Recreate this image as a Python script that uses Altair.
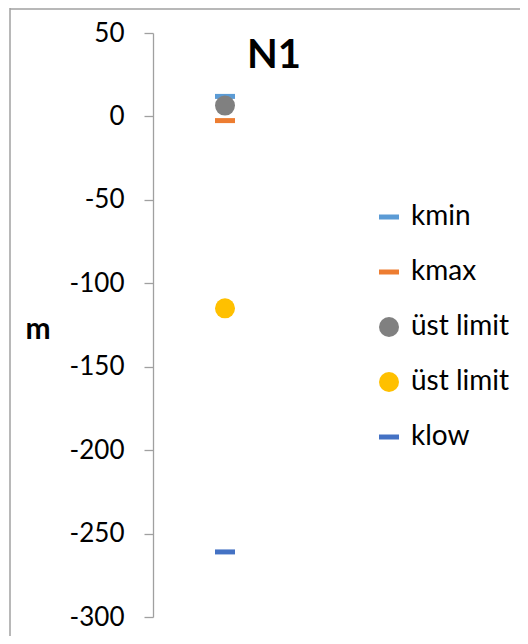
import altair as alt
import pandas as pd

# ---- data ----
series = ["kmin", "kmax", "klow", "üst limit (1)", "üst limit (2)"]
values = [12, -2.5, -261, 6.5, -115]
legend_order = ["kmin", "kmax", "üst limit (1)", "üst limit (2)", "klow"]
legend_colors = ["#5B9BD5", "#ED7D31", "#808080", "#FFC000", "#4472C4"]
DASH = "M-1,-0.25H1V0.25H-1Z"
legend_shapes = [DASH, DASH, "circle", "circle", DASH]
y_ticks = [-300, -250, -200, -150, -100, -50, 0, 50]
chart_title = "N1"
axis_title = "m"

df = pd.DataFrame({"seri": series, "deger": values, "kat": [1] * len(series)})

W, H = 144, 584
FONT = "Lato"
GRAY = "#A0A0A0"

points = alt.Chart(df).mark_point(filled=True, opacity=1, size=400, strokeWidth=0).encode(
    x=alt.X("kat:Q", scale=alt.Scale(domain=[0, 2]), axis=None),
    y=alt.Y(
        "deger:Q",
        scale=alt.Scale(domain=[-300, 50], nice=False, zero=False),
        axis=alt.Axis(
            values=y_ticks, title=axis_title, grid=False,
            labelExpr="toString(datum.value)",
            labelFont=FONT, labelFontSize=26, labelColor="black", labelPadding=20,
            tickSize=9, tickColor=GRAY, domainColor=GRAY, tickWidth=1.3, domainWidth=1.3,
            titleFont=FONT, titleFontSize=30, titleFontWeight="bold", titleColor="black",
            titleAngle=0, titleAlign="left", titleBaseline="alphabetic",
            titleX=-128, titleY=305,
        ),
    ),
    color=alt.Color("seri:N", scale=alt.Scale(domain=legend_order, range=legend_colors),
                    legend=alt.Legend(
                        title=None, orient="none", legendX=222, legendY=170, padding=0,
                        labelFont=FONT, labelFontSize=28, labelColor="black", labelOffset=8,
                        symbolSize=400, symbolStrokeWidth=0, symbolOpacity=1, rowPadding=27,
                        labelExpr="indexof(datum.label, 'üst') >= 0 ? 'üst limit' : datum.label",
                    )),
    shape=alt.Shape("seri:N", scale=alt.Scale(domain=legend_order, range=legend_shapes)),
    order=alt.Order("idx:Q"),
).transform_window(idx="row_number()")

title_text = alt.Chart(pd.DataFrame({"t": [chart_title]})).mark_text(
    font=FONT, fontSize=40, fontWeight="bold", align="center", baseline="alphabetic", color="black"
).encode(text="t:N", x=alt.value(121), y=alt.value(35))

border_left = alt.Chart(pd.DataFrame({"a": [0]})).mark_rule(color=GRAY, strokeWidth=1.5).encode(
    x=alt.value(-143), y=alt.value(-25), y2=alt.value(H + 30))
border_top = alt.Chart(pd.DataFrame({"a": [0]})).mark_rule(color=GRAY, strokeWidth=1.5).encode(
    x=alt.value(-143), x2=alt.value(400), y=alt.value(-24))

chart = alt.layer(border_left, border_top, points, title_text).properties(
    width=W, height=H,
    background="white",
    autosize=alt.AutoSizeParams(type="none"),
    padding={"left": 145, "top": 25, "right": 512 - 145 - W, "bottom": 628 - 25 - H},
).configure_view(stroke="transparent", strokeWidth=0)

chart.save("out.html", embed_options={"renderer": "svg", "actions": False})
